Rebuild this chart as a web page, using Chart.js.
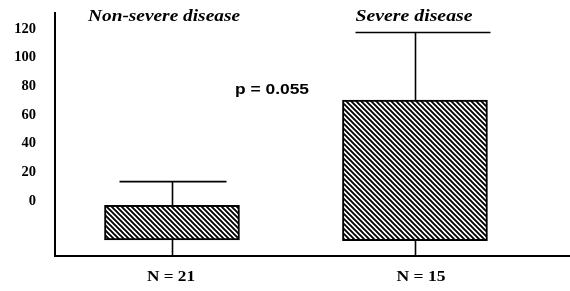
<!DOCTYPE html>
<html>
<head>
<meta charset="utf-8">
<script src="https://cdn.jsdelivr.net/npm/chart.js@4.4.1/dist/chart.umd.min.js"></script>
<style>
  html, body { margin: 0; padding: 0; background: #fff; }
  #wrap { width: 570px; height: 291px; position: relative; }
</style>
</head>
<body>
<div id="wrap"><canvas id="c"></canvas></div>
<script>
// ---- data ----
const categories = ["N = 21", "N = 15"];
const groupTitles = ["Non-severe disease", "Severe disease"];
const boxLow = [-27.2, -27.7];
const boxHigh = [-3, 70.5];
const whiskerHigh = [13.5, 117.6];
const whiskerLow = [-40, -40];
const yTicks = [0, 20, 40, 60, 80, 100, 120];
const pText = "p = 0.055";

// ---- hatch pattern ----
function makeHatch() {
  const s = 5;
  const c = document.createElement('canvas');
  c.width = s; c.height = s;
  const g = c.getContext('2d');
  g.fillStyle = '#fff';
  g.fillRect(0, 0, s, s);
  g.strokeStyle = '#000';
  g.lineWidth = 1.9;
  g.beginPath();
  g.moveTo(-1, -1); g.lineTo(s + 1, s + 1);
  g.moveTo(-1, s - 1); g.lineTo(1, s + 1);
  g.moveTo(s - 1, -1); g.lineTo(s + 1, 1);
  g.stroke();
  return g.createPattern(c, 'repeat');
}
const ctx = document.getElementById('c').getContext('2d');
const hatch = makeHatch();

function drawStretched(c, text, x, y, font, targetW) {
  c.save();
  c.font = font;
  const w = c.measureText(text).width;
  const sx = targetW / w;
  c.translate(x, y);
  c.scale(sx, 1);
  c.textAlign = 'center';
  c.textBaseline = 'middle';
  c.fillStyle = '#000';
  c.fillText(text, 0, 0);
  c.restore();
}

const whiskerPlugin = {
  id: 'whiskers',
  beforeDatasetsDraw(chart) {
    const c = chart.ctx, xs = chart.scales.x, ys = chart.scales.y, a = chart.chartArea;
    const capL = [53, 60], capR = [54, 75];
    c.save();
    c.beginPath();
    c.rect(a.left, a.top - 5, a.right - a.left, a.bottom - a.top + 5);
    c.clip();
    c.strokeStyle = '#000';
    c.lineWidth = 1.6;
    categories.forEach((_, i) => {
      const x = Math.round(xs.getPixelForValue(i)) + 0.5;
      const yT = ys.getPixelForValue(whiskerHigh[i]);
      const yB = Math.min(ys.getPixelForValue(whiskerLow[i]), a.bottom);
      c.beginPath();
      c.moveTo(x, yT); c.lineTo(x, yB);
      c.stroke();
      c.beginPath();
      c.moveTo(x - capL[i], yT); c.lineTo(x + capR[i], yT);
      c.stroke();
    });
    c.restore();
  },
  afterDraw(chart) {
    const c = chart.ctx, xs = chart.scales.x;
    drawStretched(c, groupTitles[0], 164, 17, 'italic bold 17px "Liberation Serif"', 152);
    drawStretched(c, groupTitles[1], 414, 17, 'italic bold 17px "Liberation Serif"', 117);
    drawStretched(c, pText, 272, 90, 'bold 15px "Liberation Sans"', 74);
    const labelShift = [-1, 6], labelW = [48, 49];
    categories.forEach((lab, i) => {
      drawStretched(c, lab, xs.getPixelForValue(i) + labelShift[i], 277, 'bold 15px "Liberation Serif"', labelW[i]);
    });
  }
};

new Chart(ctx, {
  type: 'bar',
  data: {
    datasets: categories.map((cat, i) => ({
      label: cat,
      data: [{ x: i, y: [boxLow[i], boxHigh[i]] }],
      backgroundColor: hatch,
      borderColor: '#000',
      borderWidth: 2,
      borderSkipped: false,
      barThickness: [135, 145][i],
      grouped: false
    }))
  },
  options: {
    responsive: true,
    maintainAspectRatio: false,
    animation: false,
    layout: { padding: { top: 13, right: 1, left: 0, bottom: 0 } },
    plugins: { legend: { display: false }, tooltip: { enabled: false } },
    scales: {
      x: {
        type: 'linear',
        offset: false,
        min: -0.4815,
        max: 1.634,
        grid: { display: false, drawTicks: false, offset: false },
        border: { display: true, color: '#000', width: 2 },
        afterBuildTicks(s) { s.ticks = categories.map((_, i) => ({ value: i })); },
        afterFit(s) { s.height = 35; s.paddingLeft = 0; s.paddingRight = 0; },
        ticks: { display: false, callback: (v) => categories[Math.round(v)] }
      },
      y: {
        min: -38.4,
        max: 131.2,
        grid: { display: false, drawTicks: false },
        border: { display: true, color: '#000', width: 2 },
        afterBuildTicks(s) { s.ticks = yTicks.map(v => ({ value: v })); },
        afterFit(s) { s.width = 55; s.paddingTop = 0; s.paddingBottom = 0; },
        ticks: {
          padding: 19,
          color: '#000',
          font: { family: '"Liberation Serif"', size: 14.5, weight: 'bold' }
        }
      }
    }
  },
  plugins: [whiskerPlugin]
});
</script>
</body>
</html>
